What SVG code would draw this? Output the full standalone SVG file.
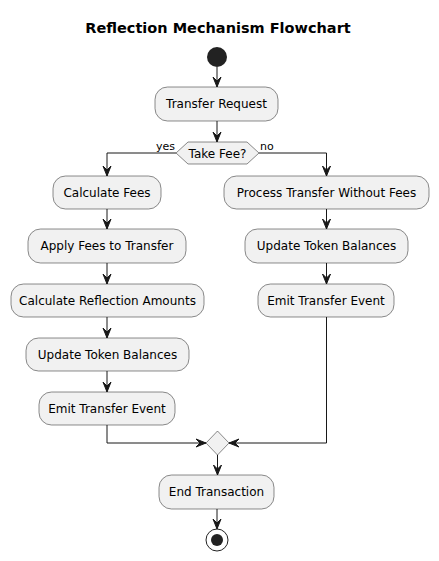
<svg xmlns="http://www.w3.org/2000/svg" width="439" height="561" viewBox="0 0 439 561">
<style>
.box{fill:#F1F1F1;stroke:#181818;stroke-width:0.5}
.lbl{font-family:"DejaVu Sans",sans-serif;font-size:12px;fill:#000;text-anchor:middle}
.small{font-family:"DejaVu Sans",sans-serif;font-size:11px;fill:#000}
.edge{fill:none;stroke:#181818;stroke-width:1;marker-end:url(#arr)}
</style>
<defs>
<marker id="arr" markerUnits="userSpaceOnUse" viewBox="-11 -5 12 10" markerWidth="12" markerHeight="10" refX="0" refY="0" orient="auto">
<path d="M0,0 L-10,-4 L-6,0 L-10,4 Z" fill="#181818" stroke="#181818" stroke-width="1"/>
</marker>
</defs>
<rect width="439" height="561" fill="#FFFFFF"/>
<text x="218" y="33" font-family="DejaVu Sans,sans-serif" font-size="14.5" font-weight="bold" text-anchor="middle">Reflection Mechanism Flowchart</text>
<g id="edges">
<path class="edge" d="M217,67 V87"/>
<path class="edge" d="M217,121 V142"/>
<path class="edge" d="M176,153 H107 V176"/>
<path class="edge" d="M259,153 H326.5 V176"/>
<path class="edge" d="M107,209 V229"/>
<path class="edge" d="M107,263 V284"/>
<path class="edge" d="M107,317 V338"/>
<path class="edge" d="M107,371 V392"/>
<path class="edge" d="M107,425 V443 H206"/>
<path class="edge" d="M326.5,209 V229"/>
<path class="edge" d="M326.5,263 V284"/>
<path class="edge" d="M326.5,317 V443 H229"/>
<path class="edge" d="M217.5,455 V475"/>
<path class="edge" d="M217,509 V529"/>
<text class="small" x="175" y="150" text-anchor="end">yes</text>
<text class="small" x="260" y="150">no</text>
</g>
<g id="start"><circle cx="217" cy="57" r="10" fill="#222222"/></g>
<g id="transferRequest"><rect class="box" x="155" y="87" width="123" height="34" rx="12.5"/><text class="lbl" x="216.5" y="108">Transfer Request</text></g>
<g id="takeFee"><polygon class="box" points="176,153 188,142 247,142 259,153 247,164 188,164"/><text class="lbl" x="217.5" y="157.5">Take Fee?</text></g>
<g id="calcFees"><rect class="box" x="53" y="176" width="108" height="33" rx="12.5"/><text class="lbl" x="107" y="197">Calculate Fees</text></g>
<g id="applyFees"><rect class="box" x="28" y="229" width="158" height="34" rx="12.5"/><text class="lbl" x="107" y="250">Apply Fees to Transfer</text></g>
<g id="calcReflection"><rect class="box" x="11" y="284" width="193" height="33" rx="12.5"/><text class="lbl" x="107.5" y="305">Calculate Reflection Amounts</text></g>
<g id="updateLeft"><rect class="box" x="26" y="338" width="163" height="33" rx="12.5"/><text class="lbl" x="107.5" y="359">Update Token Balances</text></g>
<g id="emitLeft"><rect class="box" x="39" y="392" width="136" height="33" rx="12.5"/><text class="lbl" x="107" y="413">Emit Transfer Event</text></g>
<g id="processNoFees"><rect class="box" x="224" y="176" width="205" height="33" rx="12.5"/><text class="lbl" x="326.5" y="197">Process Transfer Without Fees</text></g>
<g id="updateRight"><rect class="box" x="245" y="229" width="163" height="34" rx="12.5"/><text class="lbl" x="326.5" y="250">Update Token Balances</text></g>
<g id="emitRight"><rect class="box" x="258" y="284" width="136" height="33" rx="12.5"/><text class="lbl" x="326" y="305">Emit Transfer Event</text></g>
<g id="merge"><polygon class="box" points="217.5,431 229,443 217.5,455 206,443"/></g>
<g id="endTransaction"><rect class="box" x="159" y="475" width="115" height="34" rx="12.5"/><text class="lbl" x="216.5" y="496">End Transaction</text></g>
<g id="stop"><circle cx="217" cy="540" r="11" fill="none" stroke="#222222" stroke-width="1"/><circle cx="217" cy="540" r="6" fill="#222222"/></g>
</svg>
